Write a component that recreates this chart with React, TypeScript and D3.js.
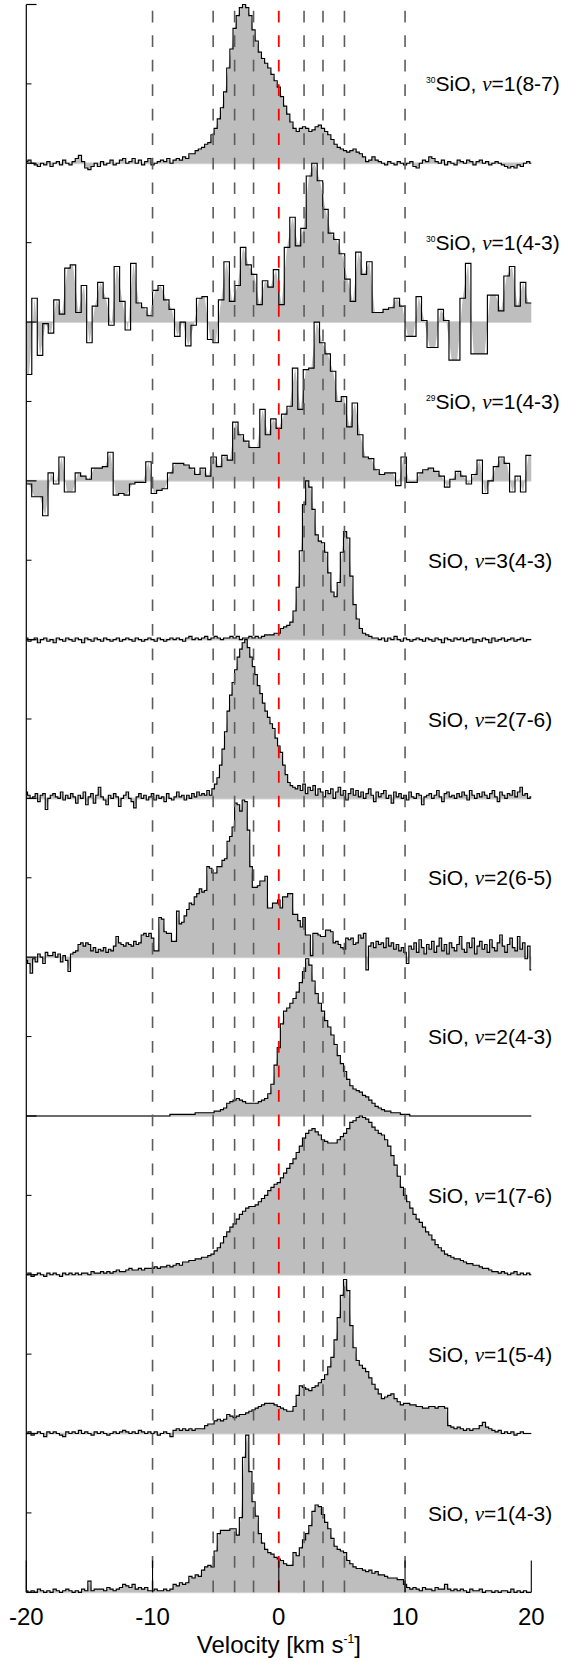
import React from 'react';
import * as d3 from 'd3';

// ---------- axis / marker data ----------
const velocityTicks = [-20, -10, 0, 10, 20];
const markerVelocities = [-10, -5.2, -3.5, -2, 2, 3.5, 5.2, 10];
const systemicVelocity = 0;

// ---------- panel labels (top to bottom) ----------
const isotopes = ['30', '30', '29', '', '', '', '', '', '', ''];
const vibLevels = ['1', '1', '1', '3', '2', '2', '2', '1', '1', '1'];
const transitions = ['8-7', '4-3', '4-3', '4-3', '7-6', '6-5', '4-3', '7-6', '5-4', '4-3'];
// channel width in km/s; 0 => coarse channels evenly spanning -20..20
const channelWidths = [0.25, 0, 0, 0.25, 0.2, 0.2, 0.25, 0.25, 0.25, 0.25];

// ---------- spectra, percent of peak ----------
// 30SiO v=1 (8-7), grid -20..20 step 0.25
const sio30_v1_87 = [
  1, 2, 0, -1, -2, 0, -1, 1,
  -2, 0, 1, -1, 2, 0, -1, 1,
  3, 5, 1, -3, -4, -2, 0, -2,
  1, -1, 0, 2, -1, 0, 2, 3,
  0, 1, 3, 0, 2, -1, 1, 3,
  -1, 0, 1, 2, 1, 3, 0, 2,
  3, 2, 4, 3, 6, 6, 8, 9,
  10, 12, 13, 18, 22, 28, 35, 45,
  60, 72, 85, 93, 98, 100, 98, 93,
  84, 77, 70, 66, 63, 60, 56, 52,
  48, 42, 36, 31, 26, 22, 20, 22,
  23, 22, 20, 21, 23, 24, 22, 20,
  18, 15, 12, 10, 9, 8, 7, 8,
  9, 7, 6, 4, 1, 2, 4, 2,
  1, 0, -1, 1, 0, -1, 1, 0,
  -1, 0, 1, -2, -3, 0, 2, 1,
  4, 3, 1, 0, 2, -1, 1, 0,
  -1, 2, 1, 0, 2, 1, -1, 1,
  2, 0, 1, -1, 0, 1, 0, -1,
  -2, -3, -2, -3, -1, -2, 0, 1,
  0,
];

// 30SiO v=1 (4-3), 92 coarse channels
const sio30_v1_43 = [
  -33, 15, -21, -1, -7, 14, 5, 34, 36, 6,
  23, -13, 10, 25, 15, -2, 35, 13, -5, 37,
  12, 9, 4, 20, 23, 14, 8, -9, 0, -15,
  -2, 15, 16, -11, -13, 14, 38, 13, 23, 47,
  36, 30, 11, 26, 22, 33, 11, 47, 66, 48,
  59, 92, 100, 89, 71, 56, 52, 43, 27, 13,
  44, 30, 38, 6, 6, 8, 9, 15, 10, -9,
  -9, 16, 1, -16, -16, 8, 1, -24, -24, 15,
  37, -20, -20, -20, 17, 17, 7, 29, 35, 10,
  25, 12,
];

// 29SiO v=1 (4-3), 93 coarse channels
const sio29_v1_43 = [
  -2, -10, -10, -22, 5, -2, 15, -7, -7, 5,
  3, 1, 8, 8, 9, 18, -9, -8, -9, -2,
  -1, -1, 12, -8, -6, -5, 5, 11, 11, 10,
  8, 4, 8, 3, 15, 9, 16, 13, 37, 29,
  25, 21, 21, 45, 29, 39, 33, 42, 47, 71,
  45, 70, 71, 100, 87, 80, 69, 50, 53, 34,
  49, 29, 15, 14, 7, 4, 5, 5, -3, 15,
  -1, -1, 5, 7, 8, 6, 3, -4, 1, 6,
  3, -2, 4, 13, -8, 0, 9, 15, 11, -7,
  3, -7, 16,
];

// SiO v=3 (4-3), step 0.25
const sio_v3_43 = [
  1, -1, 0, 1, -2, 0, 1, -1,
  0, -2, 1, 0, -1, 1, 0, -1,
  1, 0, -2, 1, 0, -1, 1, 0,
  -1, 1, 0, -1, 0, 1, -1, 0,
  1, 0, -1, 1, 0, -1, 0, 1,
  0, -1, 1, 0, -1, 0, 1, 0,
  1, 0, -1, 1, 2, 0, 1, 0,
  1, 2, 0, 1, 2, 1, 0, 1,
  1, 2, 1, 2, 0, 1, 1, 2,
  1, 2, 1, 2, 3, 3, 3, 4,
  4, 7, 8, 9, 11, 18, 33, 56,
  85, 100, 96, 82, 66, 62, 61, 55,
  42, 30, 27, 36, 55, 68, 64, 40,
  22, 13, 7, 4, 3, 2, 1, 1,
  0, 1, -1, 1, 0, 2, 0, -1,
  1, 0, -1, 0, 1, 0, -1, 1,
  0, -1, 1, 0, -2, 1, 0, -1,
  1, 0, 1, -1, 0, 1, -2, 0,
  -1, 1, 0, -2, 1, -1, 0, 1,
  -1, 0, 1, -1, 0, 1, -1, 0,
  0,
];

// SiO v=2 (7-6), step 0.2
const sio_v2_76 = [
  4, 2, 0, 1, 3, -2, 2, 3, -7, 0,
  2, 3, 1, 0, 4, -1, 2, 0, 3, 1,
  -3, 2, 0, 4, -4, 1, 3, -3, 2, 7,
  1, -1, -4, 2, 0, 3, 1, -5, 0, 2,
  4, 0, -2, -6, 1, 3, 0, 2, -1, 1,
  3, -1, 2, 0, 1, -2, 3, 0, -1, 1,
  4, 1, 2, -1, 2, 0, 3, 1, 4, 2,
  3, 2, 5, 2, 6, 9, 13, 21, 31, 42,
  55, 65, 73, 81, 89, 94, 98, 100, 95, 89,
  83, 78, 71, 66, 60, 55, 51, 47, 44, 38,
  33, 29, 21, 15, 10, 8, 7, 6, 8, 5,
  9, 3, 7, 5, 8, 2, 6, 4, 1, 5,
  3, 6, 0, 4, 7, 2, 5, -1, 3, 6,
  2, 5, 1, 4, 0, 3, 6, 2, -2, 4,
  1, 3, 5, 0, 2, -3, 4, 1, 3, 0,
  2, -1, 4, 1, 0, 3, 2, -4, 1, 2,
  3, 0, 2, 5, 1, -2, 3, 4, 1, 2,
  0, 3, 1, 4, 2, -1, 5, 2, 0, 3,
  1, 4, 2, 0, 3, 5, 1, -2, 4, 2,
  0, 3, 2, 5, 1, 4, 7, 2, 3, 0,
  1,
];

// SiO v=2 (6-5), step 0.2
const sio_v2_65 = [
  -2, -4, -10, -1, -3, 2, 0, -4, 3, 1,
  1, 3, 0, 2, -3, 1, -2, -9, 2, 3,
  4, 8, 9, 7, 9, 8, 4, 6, 3, 5,
  4, 6, 3, 5, 4, 7, 13, 9, 8, 7,
  9, 8, 7, 10, 8, 9, 14, 15, 13, 15,
  12, 4, 4, 25, 24, 16, 15, 15, 10, 10,
  29, 21, 22, 26, 30, 34, 33, 38, 40, 43,
  41, 42, 57, 56, 53, 53, 57, 57, 61, 62,
  73, 76, 82, 97, 96, 92, 99, 98, 80, 57,
  44, 44, 45, 48, 48, 51, 31, 31, 34, 34,
  36, 31, 38, 38, 40, 40, 27, 27, 23, 19,
  25, 14, 14, 1, 15, 15, 14, 13, 13, 17,
  17, 16, 9, 10, 8, 6, 5, 12, 11, 12,
  8, 9, 14, 12, 15, -8, 7, 9, 6, 10,
  8, 9, 6, 12, 7, 9, 5, 8, 4, 6,
  3, -4, 7, 5, 9, 3, 11, 6, 2, 8,
  5, 10, 3, 7, 12, 4, 8, 2, 9, 6,
  4, 8, 13, 5, 3, 9, 6, 12, 2, 7,
  10, 5, 8, 3, 11, 6, 4, 9, 14, 7,
  3, 8, 12, 6, 4, 13, 5, 9, -1, 7,
  -8,
];

// SiO v=2 (4-3), step 0.25
const sio_v2_43 = [
  0, 0, 0, 0, 0, 0, 0, 0,
  0, 0, 0, 0, 0, 0, 0, 0,
  0, 0, 0, 0, 0, 0, 0, 0,
  0, 0, 0, 0, 0, 0, 0, 0,
  0, 0, 0, 0, 0, 0, 0, 0,
  0, 0, 0, 0, 0, 0, 1, 1,
  1, 1, 1, 1, 1, 1, 2, 2,
  2, 2, 2, 2, 3, 3, 4, 5,
  8, 9, 10, 11, 10, 9, 8, 8,
  8, 8, 9, 10, 11, 14, 20, 32,
  43, 58, 66, 68, 71, 74, 78, 84,
  91, 99, 95, 85, 77, 71, 66, 60,
  56, 51, 45, 38, 33, 28, 23, 19,
  17, 16, 15, 13, 12, 10, 8, 6,
  5, 4, 3, 3, 2, 2, 2, 1,
  1, 1, 0, 0, 0, 0, 0, 0,
  0, 0, 0, 0, 0, 0, 0, 0,
  0, 0, 0, 0, 0, 0, 0, 0,
  0, 0, 0, 0, 0, 0, 0, 0,
  0, 0, 0, 0, 0, 0, 0, 0,
  0,
];

// SiO v=1 (7-6), step 0.25
const sio_v1_76 = [
  0, 1, -1, 0, 1, 0, -1, 1,
  0, 1, 0, -1, 1, 0, 1, 0,
  1, 0, 1, 1, 0, 2, 1, 1,
  2, 1, 2, 1, 2, 3, 2, 2,
  3, 4, 3, 3, 4, 3, 4, 4,
  4, 5, 4, 5, 5, 6, 5, 6,
  7, 6, 8, 8, 9, 9, 10, 10,
  11, 11, 12, 13, 15, 17, 20, 24,
  27, 30, 32, 35, 38, 40, 42, 43,
  43, 44, 46, 48, 50, 53, 55, 57,
  58, 61, 64, 67, 70, 73, 77, 81,
  86, 89, 91, 92, 90, 88, 85, 84,
  83, 83, 83, 85, 87, 89, 92, 96,
  97, 99, 100, 99, 98, 96, 93, 91,
  89, 88, 85, 81, 75, 69, 62, 55,
  50, 46, 42, 38, 35, 33, 30, 27,
  25, 22, 19, 17, 15, 13, 12, 11,
  10, 10, 9, 8, 7, 7, 6, 6,
  5, 4, 4, 3, 2, 2, 1, 2,
  1, 0, 1, 2, 0, 1, 0, 1,
  0,
];

// SiO v=1 (5-4), step 0.25
const sio_v1_54 = [
  0, 1, -1, 0, 1, 0, -2, 1,
  0, 1, 0, -1, -2, 1, 0, 1,
  0, 2, 0, 1, 0, -1, 1, 0,
  1, 0, -1, 0, 1, 0, 1, 2,
  1, 0, 1, 0, 2, 1, 0, 1,
  0, 1, -1, 0, 1, 0, -2, 2,
  3, 2, 3, 2, 3, 2, 3, 3,
  3, 5, 6, 6, 8, 9, 8, 9,
  12, 11, 10, 11, 12, 12, 13, 14,
  15, 16, 17, 18, 19, 19, 19, 18,
  17, 16, 15, 14, 14, 17, 24, 30,
  29, 28, 27, 29, 30, 32, 34, 37,
  42, 48, 59, 73, 87, 97, 90, 68,
  54, 46, 43, 41, 39, 35, 31, 28,
  25, 22, 23, 24, 25, 22, 20, 18,
  19, 19, 18, 18, 17, 17, 16, 16,
  17, 17, 16, 17, 17, 16, 5, 4,
  3, 4, 3, 2, 3, 2, 3, 3,
  5, 7, 4, 3, 2, 1, 2, 0,
  1, 0, 1, -1, 0, 1, 0, 0,
  0,
];

// SiO v=1 (4-3), step 0.25
const sio_v1_43 = [
  1, 0, 1, 0, 2, 1, 0, 1,
  0, 2, 1, 0, 1, 2, 1, 0,
  1, 0, 2, 1, 7, 1, 2, 2,
  2, 1, 3, 2, 1, 2, 3, 5,
  4, 3, 5, 2, 3, 2, 3, 1,
  1, 2, 1, 1, 2, 1, 2, 5,
  4, 6, 5, 6, 10, 9, 11, 10,
  14, 16, 17, 16, 26, 37, 39, 39,
  39, 40, 40, 36, 47, 85, 99, 76,
  57, 48, 37, 31, 27, 25, 24, 22,
  21, 20, 18, 17, 17, 25, 23, 28,
  33, 37, 42, 51, 55, 54, 49, 44,
  40, 34, 29, 27, 26, 25, 20, 18,
  16, 15, 15, 14, 13, 14, 12, 13,
  11, 11, 10, 9, 9, 9, 8, 8,
  5, 3, 2, 3, 2, 1, 3, 2,
  2, 1, 3, 2, 2, 5, 2, 1,
  2, 1, 2, 1, 0, 2, 1, 1,
  2, 0, 1, 1, 0, 1, 0, 1,
  1, 0, 2, 0, 1, 0, 1, 0,
  0,
];

const spectra = [
  sio30_v1_87, sio30_v1_43, sio29_v1_43, sio_v3_43, sio_v2_76,
  sio_v2_65, sio_v2_43, sio_v1_76, sio_v1_54, sio_v1_43,
];

const SANS = "'Liberation Sans', Arial, Helvetica, sans-serif";
const SERIF = "'Liberation Serif', 'Times New Roman', serif";

export default function App() {
  const W = 565;
  const H = 1661;
  const x = d3.scaleLinear().domain([-20, 20]).range([26.3, 531.3]);
  const y = d3.scaleLinear().domain([0, 10]).range([1592.3, 4.5]);
  const unit = y(0) - y(1);

  const panels = spectra.map((vals, i) => {
    const n = vals.length;
    const step = channelWidths[i] || 40 / n;
    const start = channelWidths[i] ? -20 : -20 + step / 2;
    const pts: [number, number][] = vals.map((v, k) => [start + k * step, v]);
    if (pts[0][0] > -20) pts.unshift([-20, vals[0]]);
    if (pts[pts.length - 1][0] < 20) pts.push([20, vals[n - 1]]);
    const base = y(9 - i);
    const yv = (d: [number, number]) => base - (d[1] / 100) * unit;
    const line = d3
      .line<[number, number]>()
      .x((d) => x(d[0]))
      .y(yv)
      .curve(d3.curveStep)(pts) as string;
    const area = d3
      .area<[number, number]>()
      .x((d) => x(d[0]))
      .y0(base)
      .y1(yv)
      .curve(d3.curveLinear)(pts) as string;
    return { base, line, area, i };
  });

  const majorY = d3.range(0, 11);
  const minorY = d3.range(0, 10).map((k) => k + 0.5);
  const tickLenX = 31.8;

  return (
    <svg
      width={W}
      height={H}
      viewBox={`0 0 ${W} ${H}`}
      style={{ position: 'absolute', left: 0, top: 0, display: 'block', background: '#fff' }}
    >
      {/* baselines */}
      {panels.map((p) => (
        <line key={`b${p.i}`} x1={x(-20)} x2={x(20)} y1={p.base} y2={p.base} stroke="#d6d6d6" strokeWidth={2} />
      ))}
      {/* spectra */}
      {panels.map((p) => (
        <g key={`s${p.i}`}>
          <path d={p.area} fill="#bebebe" stroke="none" />
          <path d={p.line} fill="none" stroke="#000" strokeWidth={1.15} strokeLinejoin="miter" />
        </g>
      ))}
      {/* velocity markers */}
      {markerVelocities.map((v) => (
        <path
          key={`m${v}`}
          d={`M${x(v)},${y(0)}V${y(10)}`}
          stroke="#5c5c5c"
          strokeWidth={1.6}
          strokeDasharray="11.7 12.83"
          fill="none"
        />
      ))}
      <path
        d={`M${x(systemicVelocity)},${y(0)}V${y(10)}`}
        stroke="#ff0000"
        strokeWidth={1.8}
        strokeDasharray="11.7 12.83"
        fill="none"
      />
      {/* y axis */}
      <line x1={x(-20)} x2={x(-20)} y1={y(10)} y2={y(0)} stroke="#000" strokeWidth={1.2} />
      {majorY.map((k) => (
        <line key={`ym${k}`} x1={x(-20)} x2={x(-20) + 10.2} y1={y(k)} y2={y(k)} stroke="#000" strokeWidth={1.2} />
      ))}
      {minorY.map((k) => (
        <line key={`yn${k}`} x1={x(-20)} x2={x(-20) + 5.2} y1={y(k)} y2={y(k)} stroke="#000" strokeWidth={1} />
      ))}
      {/* x ticks */}
      {velocityTicks.map((v) => (
        <g key={`xt${v}`}>
          <line x1={x(v)} x2={x(v)} y1={y(0)} y2={y(0) - tickLenX} stroke="#000" strokeWidth={1.1} />
          <text x={x(v)} y={1625} textAnchor="middle" fontFamily={SANS} fontSize={24} fill="#000">
            {v}
          </text>
        </g>
      ))}
      <text x={x(0)} y={1652.5} textAnchor="middle" fontFamily={SANS} fontSize={24} fill="#000">
        Velocity [km s
        <tspan fontSize={12} dy={-10}>-1</tspan>
        <tspan dy={10}>]</tspan>
      </text>
      {/* panel labels */}
      {panels.map((p) => {
        const iso = isotopes[p.i];
        const ty = y(9 - p.i + 0.5) + 7.6;
        return (
          <text key={`l${p.i}`} x={iso ? 426 : 428} y={ty} fontFamily={SANS} fontSize={21} fill="#000">
            {iso ? (
              <tspan fontSize={8.5} dy={-8.5}>
                {iso}
              </tspan>
            ) : null}
            <tspan dy={iso ? 8.5 : 0}>SiO, </tspan>
            <tspan fontFamily={SERIF} fontStyle="italic">
              v
            </tspan>
            <tspan>{`=${vibLevels[p.i]}(${transitions[p.i]})`}</tspan>
          </text>
        );
      })}
    </svg>
  );
}
